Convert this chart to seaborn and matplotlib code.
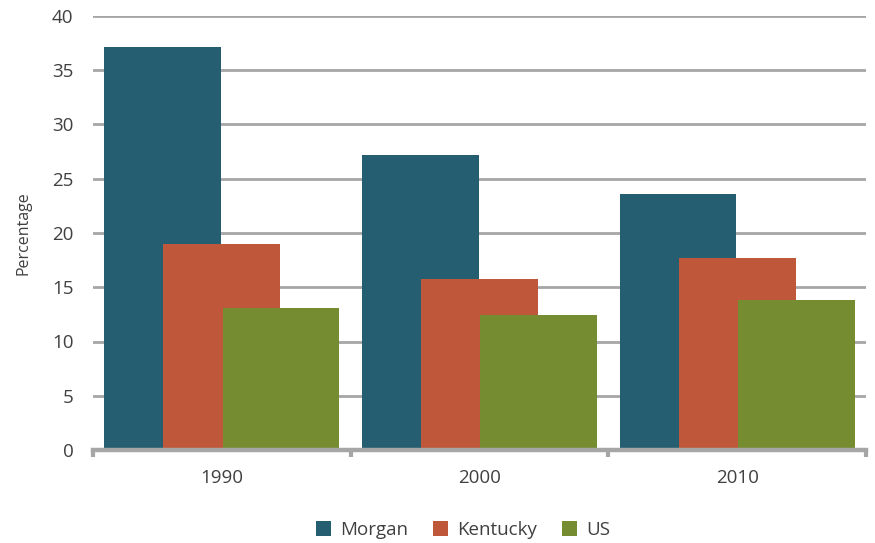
import matplotlib
matplotlib.use("Agg")
import matplotlib.pyplot as plt
import seaborn as sns
import pandas as pd
from matplotlib.ticker import FixedLocator

years = ["1990", "2000", "2010"]
series = ["Morgan", "Kentucky", "US"]
morgan = [37.1, 27.2, 23.6]
kentucky = [19.0, 15.8, 17.7]
us = [13.1, 12.4, 13.8]
colors = ["#255E71", "#BF583B", "#758C31"]

rows = []
for name, vals in zip(series, [morgan, kentucky, us]):
    for y, v in zip(years, vals):
        rows.append({"Year": y, "Series": name, "Value": v})
df = pd.DataFrame(rows)

sns.set_theme(style="white")
plt.rcParams["font.family"] = ["Open Sans", "DejaVu Sans"]
text_color = "#404040"
grid_color = "#A6A6A6"

fig = plt.figure(figsize=(8.75, 5.43), dpi=100)
ax = fig.add_axes([93/875, 1-450/543, (866-93)/875, (450-16)/543])

sns.barplot(data=df, x="Year", y="Value", hue="Series", order=years,
            hue_order=series, palette=colors, width=0.69, ax=ax,
            saturation=1, legend=True, errorbar=None, zorder=3)

# widen bars so they overlap, keeping their centers
bar_w = 0.453
for p in ax.patches:
    c = p.get_x() + p.get_width() / 2
    p.set_width(bar_w)
    p.set_x(c - bar_w / 2)
    p.set_linewidth(0)

ax.set_xlim(-0.5, 2.5)
ax.set_ylim(0, 40)
ax.set_yticks(range(0, 41, 5))
ax.yaxis.grid(True, color=grid_color, linewidth=2, zorder=0)
ax.set_axisbelow(True)
for s in ["left", "right", "top"]:
    ax.spines[s].set_visible(False)
ax.spines["bottom"].set_color(grid_color)
ax.spines["bottom"].set_linewidth(3.2)
ax.spines["bottom"].set_zorder(4)

ax.tick_params(axis="y", length=0, labelsize=13.5, labelcolor=text_color, pad=14)
ax.tick_params(axis="x", which="major", length=0, labelsize=13.5, labelcolor=text_color, pad=14)
ax.xaxis.set_minor_locator(FixedLocator([-0.5, 0.5, 1.5, 2.5]))
ax.tick_params(axis="x", which="minor", bottom=True, length=5, width=3,
               color=grid_color, direction="out")

ax.set_xlabel("")
ax.set_ylabel("Percentage", fontsize=11.5, color=text_color, labelpad=15)

handles, labels = ax.get_legend_handles_labels()
ax.legend_.remove()
fig.legend(handles, labels, loc="center", bbox_to_anchor=(463/875, 1-530/543),
           ncol=3, frameon=False, fontsize=13.5, handlelength=0.8, handleheight=0.8,
           handletextpad=0.5, columnspacing=1.3, labelcolor=text_color)

fig.savefig("out.png", dpi=100)
